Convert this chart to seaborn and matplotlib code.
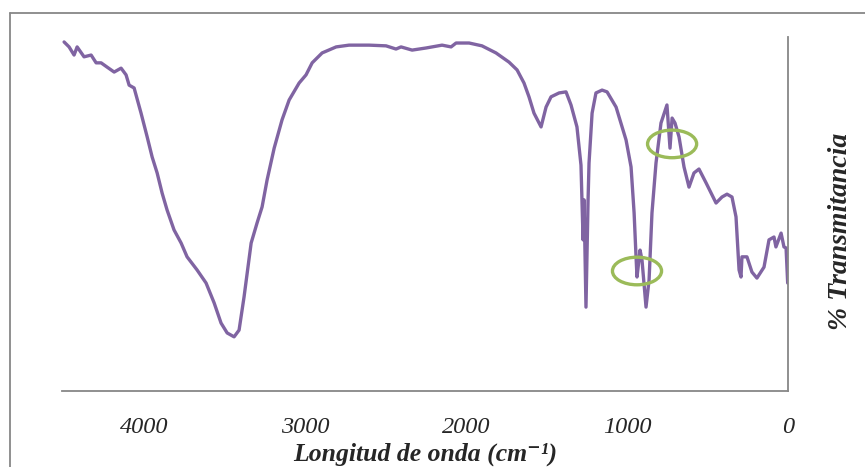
import matplotlib
matplotlib.use("Agg")
import matplotlib.pyplot as plt
import seaborn as sns
import pandas as pd
from matplotlib.patches import Ellipse
from matplotlib.lines import Line2D

# Wavenumber (cm-1) and transmittance (arbitrary %)
wavenumber = [4497, 4466, 4435, 4416, 4373, 4329, 4298, 4267, 4230, 4186, 4143, 4112, 4093, 4062,
              4019, 3981, 3950, 3919, 3888, 3857, 3814, 3770, 3733, 3671, 3615, 3565, 3522, 3484,
              3441, 3410, 3379, 3335, 3298, 3267, 3236, 3192, 3143, 3099, 3037, 2994, 2956, 2894,
              2807, 2727, 2602, 2497, 2435, 2404, 2335, 2248, 2149, 2093, 2062, 1981, 1901, 1814,
              1733, 1683, 1640, 1609, 1578, 1534, 1503, 1472, 1422, 1379, 1348, 1311, 1286, 1273,
              1267, 1255, 1242, 1236, 1217, 1193, 1155, 1124, 1068, 1006, 975, 956, 944, 938, 919,
              907, 882, 863, 845, 820, 789, 752, 733, 720, 702, 677, 646, 615, 584, 553, 509, 447,
              410, 379, 348, 323, 304, 292, 286, 255, 224, 193, 149, 118, 87, 75, 43, 25, 12, 2]
transmittance = [98.6, 97.2, 94.9, 97.2, 94.4, 94.9, 92.7, 92.7, 91.5, 90.1, 91.2, 89.3, 86.4, 85.6,
                 78.5, 71.8, 66.1, 61.6, 55.9, 51.1, 45.5, 41.8, 37.9, 34.2, 30.5, 24.9, 19.2, 16.4,
                 15.3, 17.2, 26.6, 41.8, 47.5, 52.0, 59.6, 68.6, 76.6, 82.2, 87.0, 89.3, 92.7, 95.5,
                 97.2, 97.7, 97.7, 97.5, 96.6, 97.2, 96.3, 96.9, 97.7, 97.2, 98.3, 98.3, 97.5, 95.5,
                 92.9, 90.7, 87.0, 83.1, 78.5, 74.6, 80.2, 83.1, 84.2, 84.5, 80.8, 74.6, 63.8, 42.7,
                 54.0, 23.7, 54.0, 64.4, 78.5, 84.2, 85.0, 84.5, 80.2, 70.9, 63.3, 50.3, 37.9, 32.2,
                 39.8, 37.0, 23.7, 31.4, 50.3, 64.4, 75.7, 80.8, 68.6, 77.1, 75.7, 71.8, 63.3, 57.6,
                 61.6, 62.7, 58.8, 53.1, 54.8, 55.6, 54.8, 49.2, 34.2, 32.2, 37.9, 37.9, 33.6, 31.9,
                 35.0, 42.7, 43.5, 40.7, 44.6, 40.7, 40.4, 30.5]

# Highlighted bands (centre wavenumber, centre transmittance)
marks_wn = [938, 720]
marks_t = [33.9, 69.8]

df = pd.DataFrame({"wn": wavenumber, "T": transmittance})

sns.set_theme(style="white")
plt.rcParams["font.family"] = ["Liberation Serif", "DejaVu Serif"]

fig = plt.figure(figsize=(8.65, 4.67), dpi=100)
ax = fig.add_axes([62 / 865, 1 - 391 / 467, (788 - 62) / 865, (391 - 37) / 467])

sns.lineplot(data=df, x="wn", y="T", ax=ax, color="#8064A2", linewidth=2.4,
             estimator=None, sort=False)

for w, t in zip(marks_wn, marks_t):
    ax.add_patch(Ellipse((w, t), width=305, height=7.8, fill=False,
                         edgecolor="#9BBB59", linewidth=2.4, zorder=5))

ax.set_xlim(4510, 0)
ax.set_ylim(0, 100)
ax.set_xticks([4000, 3000, 2000, 1000, 0])
ax.set_xticklabels(["4000", "3000", "2000", "1000", "0"], fontstyle="italic", fontsize=17.5)
ax.set_yticks([])
ax.tick_params(axis="x", length=0, pad=19)

for s in ["top", "left"]:
    ax.spines[s].set_visible(False)
for s in ["bottom", "right"]:
    ax.spines[s].set_visible(True)
    ax.spines[s].set_color("#878787")
    ax.spines[s].set_linewidth(1.3)

ax.set_xlabel("Longitud de onda (cm⁻¹)", fontsize=18.5, fontweight="bold",
              fontstyle="italic", labelpad=0)
ax.xaxis.set_label_coords(0.5, -0.145)
ax.yaxis.set_label_position("right")
ax.set_ylabel("% Transmitancia", fontsize=20, fontweight="bold", fontstyle="italic")
ax.yaxis.set_label_coords(1.055, 0.45)

# Outer chart frame
fx, fy = 10 / 865, 1 - 13 / 467
fig.add_artist(Line2D([fx, fx], [0, fy], color="#878787", linewidth=1.3, transform=fig.transFigure))
fig.add_artist(Line2D([fx, 1], [fy, fy], color="#878787", linewidth=1.3, transform=fig.transFigure))

fig.savefig("out.png", dpi=100)
